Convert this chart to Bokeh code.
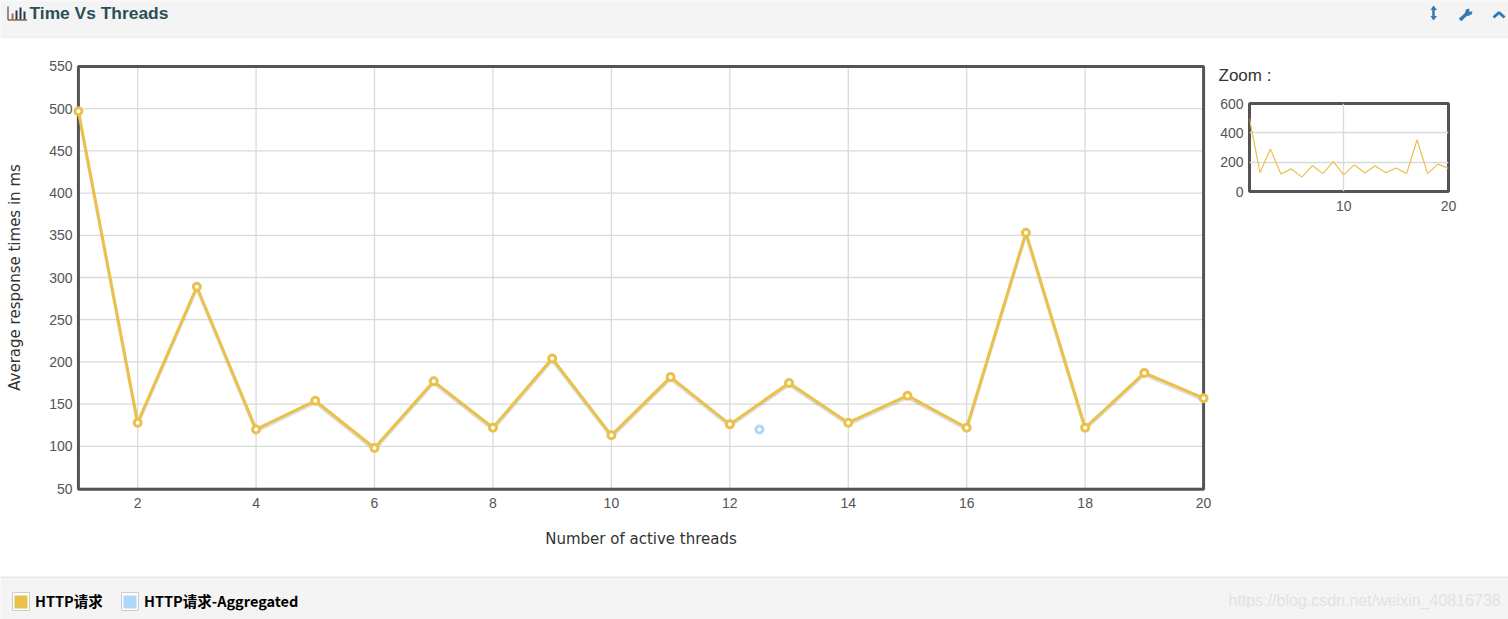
from bokeh.plotting import figure
from bokeh.layouts import column, row
from bokeh.embed import file_html
from bokeh.resources import INLINE
from bokeh.models import FixedTicker, Range1d, Label, ColumnDataSource, Spacer
from bokeh.transform import dodge

threads = list(range(1, 21))
http_times = [497, 128, 289, 120, 154, 98, 177, 122, 204, 113, 182, 126, 175, 128, 160, 122, 353, 122, 187, 157]
agg_threads = [12.5]
agg_times = [120]
main_xticks = [2, 4, 6, 8, 10, 12, 14, 16, 18, 20]
main_yticks = [50, 100, 150, 200, 250, 300, 350, 400, 450, 500, 550]
zoom_xticks = [10, 20]
zoom_yticks = [0, 200, 400, 600]
series_names = ["HTTP请求", "HTTP请求-Aggregated"]
title_text = "Time Vs Threads"
zoom_title = "Zoom :"
x_title = "Number of active threads"
y_title = "Average response times in ms"
watermark = "https://blog.csdn.net/weixin_40816738"

YEL = "#EAC14A"
BLUE = "#AFD8F8"
BORDER = "#545454"
GRID = "#DADADA"
BAR = "#F4F4F4"
LINK = "#337AB7"

# ---------- header band (axes in page pixels of the reference)
head = figure(width=1508, height=38, x_range=Range1d(0, 1508), y_range=Range1d(38, 0),
              output_backend="svg", toolbar_location=None, min_border=0,
              x_axis_type=None, y_axis_type=None, background_fill_color=BAR,
              border_fill_color=BAR, outline_line_color=None)
head.grid.visible = False
head.segment([0], [37.5], [1508], [37.5], line_color="#E7E7E7", line_width=1)
# chart icon
head.line([7.5, 7.5, 26.5], [6, 19.5, 19.5], line_color="#2B2B2B", line_width=1)
head.quad(left=[11, 15, 19, 23], right=[13, 17, 21, 25], top=[13, 10, 7, 11], bottom=[19, 19, 19, 19],
          fill_color=["#C0632A", "#2B3A4A", "#2B3A4A", "#2B3A4A"], line_color=None)
head.add_layout(Label(x=29, y=12.5, text=title_text, text_font="Liberation Sans", text_font_size="17.4px",
                      text_font_style="bold", text_color="#2A4F57", text_baseline="middle"))
# resize arrow
head.segment([1433], [7], [1433], [18], line_color=LINK, line_width=2.5)
head.patch([1430, 1433, 1436.5], [9.5, 5, 9.5], fill_color=LINK, line_color=None)
head.patch([1430, 1433, 1436.5], [15.5, 20, 15.5], fill_color=LINK, line_color=None)
# wrench
head.line([1459.5, 1467], [19.5, 12.5], line_color=LINK, line_width=3.5)
head.patch([1464.5, 1465.5, 1469, 1468.5, 1472, 1471, 1467.5, 1466],
           [12, 9, 8, 11, 11, 14, 15.5, 15], fill_color=LINK, line_color=None)
# chevron
head.line([1493, 1498.5, 1504], [17, 12, 17], line_color=LINK, line_width=3)

# ---------- main chart: the frame is drawn on the data limits so end markers can spill over it
src = ColumnDataSource(dict(x=threads, y=http_times))
main = figure(width=1212, height=538, x_range=Range1d(0.9, 20.1), y_range=Range1d(42.9, 557.1),
              output_backend="svg", toolbar_location=None,
              min_border_left=72, min_border_right=3, min_border_top=22, min_border_bottom=82,
              frame_width=1137, frame_height=434, outline_line_color=None)
main.grid.visible = False
y_lo, y_hi = main_yticks[0], main_yticks[-1]
x_lo, x_hi = threads[0], threads[-1]
main.segment(main_xticks, y_lo, main_xticks, y_hi, line_color=GRID, line_width=1.3)
main.segment(x_lo, main_yticks, x_hi, main_yticks, line_color=GRID, line_width=1.3)
main.quad(left=[x_lo], right=[x_hi], bottom=[y_lo - 1], top=[y_hi],
          fill_color=None, line_color=BORDER, line_width=3)
main.line(x="x", y=dodge("y", -2.4), source=src, line_color="#000000", line_alpha=0.13, line_width=3)
main.line(x="x", y="y", source=src, line_color=YEL, line_width=3)
main.scatter(x="x", y="y", source=src, marker="circle", size=7, fill_color="#FFFFFF",
             line_color=YEL, line_width=3)
main.scatter(agg_threads, agg_times, marker="circle", size=7, fill_color="#FFFFFF",
             line_color=BLUE, line_width=3)

main.xaxis.ticker = FixedTicker(ticks=main_xticks)
main.yaxis.ticker = FixedTicker(ticks=main_yticks)
main.xaxis.axis_label = x_title
main.yaxis.axis_label = y_title

# ---------- zoom chart
zoom = figure(width=296, height=530, x_range=Range1d(1, 20), y_range=Range1d(0, 600),
              output_backend="svg", toolbar_location=None,
              min_border_left=37, min_border_right=60, min_border_top=57, min_border_bottom=385,
              frame_width=199, frame_height=88,
              outline_line_color=BORDER, outline_line_width=3,
              title=zoom_title)
zoom.title.text_font = "Liberation Sans"
zoom.title.text_font_size = "17px"
zoom.title.text_font_style = "normal"
zoom.title.text_color = "#333333"
zoom.title.align = "left"
zoom.title.offset = -31
zoom.title.vertical_align = "top"
zoom.title.standoff = 34
zoom.grid.grid_line_color = GRID
zoom.grid.grid_line_width = 1.3
zoom.line(threads, http_times, line_color=YEL, line_width=1.2)
zoom.xaxis.ticker = FixedTicker(ticks=zoom_xticks)
zoom.yaxis.ticker = FixedTicker(ticks=zoom_yticks)

for p in (main, zoom):
    for ax in p.xaxis + p.yaxis:
        ax.axis_line_color = None
        ax.major_tick_line_color = None
        ax.minor_tick_line_color = None
        ax.major_tick_out = 0
        ax.major_tick_in = 0
        ax.major_label_text_font = "Liberation Sans"
        ax.major_label_text_font_size = "14px"
        ax.major_label_text_color = "#545454"
        ax.axis_label_text_font = "DejaVu Sans"
        ax.axis_label_text_font_size = "15px"
        ax.axis_label_text_font_style = "normal"
        ax.axis_label_text_color = "#333333"
main.xaxis.major_label_standoff = 3
main.yaxis.major_label_standoff = 0
zoom.xaxis.major_label_standoff = 9
zoom.yaxis.major_label_standoff = 6
main.xaxis.axis_label_standoff = 19
main.yaxis.axis_label_standoff = 22

# ---------- legend band
foot = figure(width=1508, height=43, x_range=Range1d(0, 1508), y_range=Range1d(619, 576),
              output_backend="svg", toolbar_location=None, min_border=0,
              x_axis_type=None, y_axis_type=None, background_fill_color=BAR,
              border_fill_color=BAR, outline_line_color=None)
foot.grid.visible = False
foot.segment([0], [576.5], [1508], [576.5], line_color="#DDDDDD", line_width=1)
foot.quad(left=[12, 121], right=[29, 138], top=[592, 592], bottom=[610, 610],
          fill_color="#FFFFFF", line_color="#CCCCCC", line_width=1)
foot.quad(left=[14, 123], right=[27, 136], top=[595, 595], bottom=[608, 608],
          fill_color=[YEL, BLUE], line_color=None)
for lx, name in zip([34.5, 143.5], series_names):
    foot.add_layout(Label(x=lx, y=600, text=name, text_font="Noto Sans CJK SC", text_font_size="14.5px",
                          text_font_style="bold", text_color="#000000", text_baseline="middle"))
foot.add_layout(Label(x=1228, y=600, text=watermark, text_font="Liberation Sans", text_font_size="16px",
                      text_color="#E2E2E2", text_baseline="middle"))

page = column(head, row(main, column(Spacer(height=8), zoom, spacing=0), spacing=0), foot, spacing=0)
open("out.html", "w").write(file_html(page, INLINE))
